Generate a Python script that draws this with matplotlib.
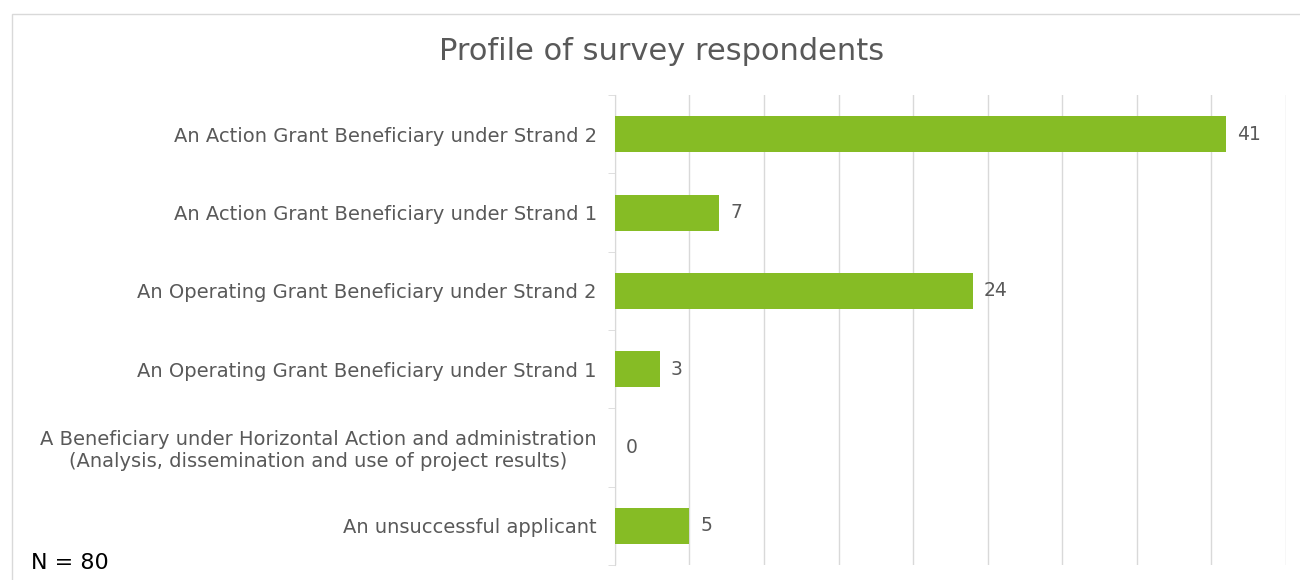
import matplotlib.pyplot as plt
import matplotlib.patches as mpatches
import numpy as np

categories = [
    "An Action Grant Beneficiary under Strand 2",
    "An Action Grant Beneficiary under Strand 1",
    "An Operating Grant Beneficiary under Strand 2",
    "An Operating Grant Beneficiary under Strand 1",
    "A Beneficiary under Horizontal Action and administration\n(Analysis, dissemination and use of project results)",
    "An unsuccessful applicant",
]
counts = [41, 7, 24, 3, 0, 5]

green = '#86BC25'
grey_text = '#595959'
grid_col = '#D9D9D9'

fig = plt.figure(figsize=(13, 5.8), dpi=100)
ax = fig.add_axes([0.473, 0.026, 0.516, 0.81])

y = np.arange(len(categories))
ax.barh(y, counts, height=0.46, color=green, zorder=3)
for yi, v in zip(y, counts):
    ax.text(v + 0.75, yi, str(v), va='center', ha='left', fontsize=13.5, color=grey_text)

ax.set_xlim(0, 45)
ax.set_ylim(len(categories) - 0.5, -0.5)
ax.set_xticks(np.arange(0, 46, 5))
ax.tick_params(axis='x', length=0, labelbottom=False)
ax.xaxis.grid(True, color=grid_col, linewidth=1)
ax.set_axisbelow(True)

ax.set_yticks(y)
labels = ax.set_yticklabels(categories, fontsize=14, color=grey_text)
for lab in labels:
    lab.set_multialignment('center')
ax.tick_params(axis='y', which='major', length=0, pad=13)
ax.set_yticks(np.arange(-0.5, len(categories), 1), minor=True)
ax.tick_params(axis='y', which='minor', length=5, color=grid_col)

for s in ['top', 'right', 'bottom']:
    ax.spines[s].set_visible(False)
ax.spines['left'].set_color(grid_col)

fig.text(0.509, 0.912, "Profile of survey respondents", ha='center', va='center',
         fontsize=22, color=grey_text)
fig.text(0.024, 0.03, "N = 80", ha='left', va='center', fontsize=16, color='black')

border = mpatches.Rectangle((12 / 1300, -0.1), 1.5, 1 - 14 / 580 + 0.1,
                            transform=fig.transFigure, fill=False,
                            edgecolor='#D9D9D9', linewidth=1)
fig.patches.append(border)

fig.savefig('out.png', dpi=100)
